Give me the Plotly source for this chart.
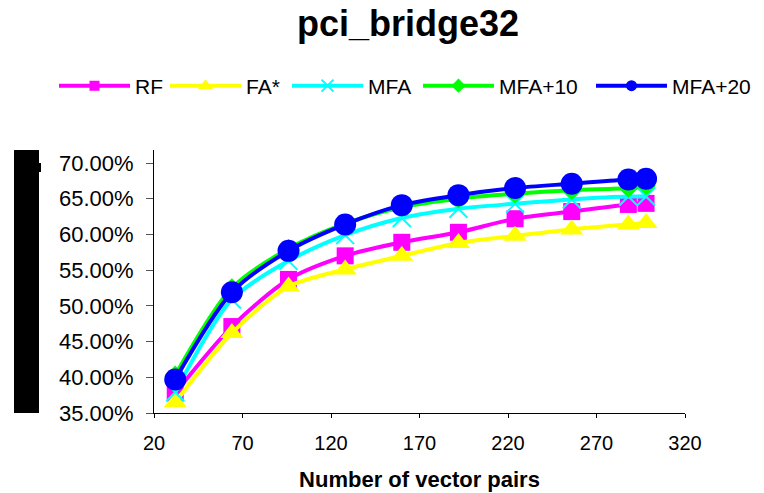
import plotly.graph_objects as go

x_vals = [32, 64, 96, 128, 160, 192, 224, 256, 288, 298]

series_names = ["RF", "FA*", "MFA", "MFA+10", "MFA+20"]
rf = [37.8, 47.1, 53.7, 57.0, 58.9, 60.3, 62.2, 63.2, 64.2, 64.35]
fa_star = [36.5, 46.2, 52.7, 55.1, 57.0, 58.8, 59.8, 60.7, 61.4, 61.6]
mfa = [37.9, 50.9, 56.3, 59.9, 62.3, 63.6, 64.3, 64.9, 65.3, 65.3]
mfa10 = [40.3, 52.5, 58.0, 61.5, 63.8, 65.0, 65.7, 66.2, 66.5, 66.8]
mfa20 = [39.7, 51.9, 57.7, 61.4, 64.1, 65.5, 66.5, 67.1, 67.7, 67.8]

x_ticks = [20, 70, 120, 170, 220, 270, 320]
y_ticks = [35, 40, 45, 50, 55, 60, 65, 70]

styles = [
    dict(color="#FF00FF", symbol="square", size=17, lsize=10),
    dict(color="#FFFF00", symbol="triangle-up", size=20, lsize=13),
    dict(color="#00FFFF", symbol="x-thin", size=18, lsize=12),
    dict(color="#00FF00", symbol="diamond", size=15, lsize=11),
    dict(color="#0000FF", symbol="circle", size=22, lsize=11),
]
# left pixel of each legend entry's line
legend_starts = [60, 171, 293, 424, 597]

def make_marker(st, size):
    m = dict(symbol=st["symbol"], size=size, color=st["color"])
    if st["symbol"] == "x-thin":
        m["line"] = dict(color=st["color"], width=2)
    else:
        m["line"] = dict(width=0)
    return m

font_family = "Liberation Sans, Arial, sans-serif"

fig = go.Figure()
for name, ys, st in zip(series_names, [rf, fa_star, mfa, mfa10, mfa20], styles):
    fig.add_trace(go.Scatter(
        x=x_vals, y=ys, name=name, mode="lines+markers", showlegend=False,
        line=dict(color=st["color"], width=4, shape="spline", smoothing=0.8),
        marker=make_marker(st, st["size"]),
    ))

legend_layouts = {}
for i, (name, st, px0) in enumerate(zip(series_names, styles, legend_starts)):
    key = "legend" if i == 0 else f"legend{i + 1}"
    fig.add_trace(go.Scatter(
        x=[None], y=[None], name=name, mode="lines+markers", legend=key,
        line=dict(color=st["color"], width=4),
        marker=make_marker(st, st["lsize"]),
    ))
    legend_layouts[key] = dict(
        orientation="h", x=(px0 - 6 - 154) / 531, xanchor="left",
        y=1 + (150 - 86) / 263, yanchor="middle",
        font=dict(size=21, family=font_family), itemwidth=71,
        bgcolor="rgba(0,0,0,0)",
    )

fig.update_layout(
    width=764, height=493,
    margin=dict(l=154, r=79, t=150, b=80, autoexpand=False),
    paper_bgcolor="white", plot_bgcolor="white",
    font=dict(family=font_family, color="black"),
    title=dict(text="<b>pci_bridge32</b>", x=408 / 764, xanchor="center", y=1 - 23 / 493, yanchor="middle",
               font=dict(size=36, family=font_family, color="black")),
    showlegend=True,
    xaxis=dict(range=[20, 320], tickvals=x_ticks, ticktext=[str(v) for v in x_ticks],
               automargin=False,
               showgrid=False, zeroline=False, showline=True, linecolor="black", linewidth=1,
               ticks="outside", ticklen=4, tickcolor="black", ticklabelstandoff=8,
               tickfont=dict(size=20, family=font_family),
               title=dict(text="<b>Number of vector pairs</b>", font=dict(size=22, family=font_family), standoff=18)),
    yaxis=dict(range=[35, 71.82], tickvals=y_ticks, ticktext=[f"{v:.2f}%" for v in y_ticks],
               automargin=False,
               showgrid=False, zeroline=False, showline=True, linecolor="black", linewidth=1,
               ticks="outside", ticklen=7, tickcolor="#555555", ticklabelstandoff=8,
               tickfont=dict(size=22, family=font_family)),
    **legend_layouts,
)

fig.add_shape(type="rect", xref="paper", yref="paper",
              x0=(14 - 154) / 531, x1=(39 - 154) / 531, y0=0, y1=1,
              fillcolor="black", line=dict(width=0), layer="above")
fig.add_shape(type="rect", xref="paper", yref="paper",
              x0=(39 - 154) / 531, x1=(41 - 154) / 531, y0=(413 - 172) / 263, y1=(413 - 163) / 263,
              fillcolor="black", line=dict(width=0), layer="above")

fig.write_html("out.html")
